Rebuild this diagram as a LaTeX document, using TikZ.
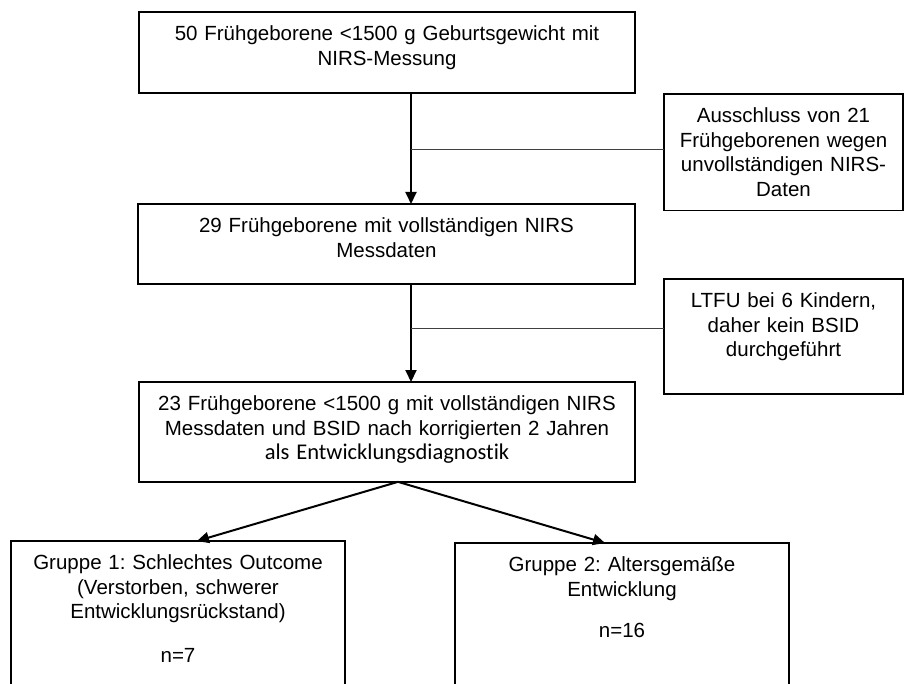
\documentclass[tikz,border=0pt]{standalone}
\usepackage{fontspec}
\setmainfont{Liberation Sans}
\newfontfamily\calibri[Ligatures=NoCommon]{Carlito}
\usetikzlibrary{arrows.meta}
\frenchspacing

\begin{document}
\begin{tikzpicture}[
  x=1pt, y=-1pt,
  box/.style={draw, line width=1.3pt, anchor=north west, outer sep=0pt, align=center,
    inner xsep=4pt, inner ysep=14pt, font=\fontsize{20.5}{24.5}\selectfont},
  flow/.style={-{Triangle[length=12pt,width=11pt]}, line width=2pt},
  side/.style={line width=1pt, black!75}
]
  \clip (0,0) rectangle (904,684);

  % main column
  \node[box, text width=488pt, text depth=38pt] (gesamt) at (139,12)
    {50 Frühgeborene <1500 g Geburtsgewicht mit\\NIRS-Messung};
  \node[box, text width=489pt, text depth=37pt] (vollst) at (138,204)
    {29 Frühgeborene mit vollständigen NIRS\\Messdaten};
  \node[box, text width=488pt, text depth=57pt] (bsid) at (139,382)
    {23 Frühgeborene <1500 g mit vollständigen NIRS\\Messdaten und BSID nach korrigierten 2 Jahren\\{\calibri\fontsize{22.5}{24.5}\selectfont als Entwicklungsdiagnostik}};

  % exclusions
  \node[box, text width=231pt] (aus1) at (664,94)
    {Ausschluss von 21\\Frühgeborenen wegen\\unvollständigen NIRS-\\Daten};
  \node[box, text width=231pt, text depth=72pt] (ltfu) at (664,279)
    {LTFU bei 6 Kindern,\\daher kein BSID\\durchgeführt};

  % groups
  \node[box, text width=326pt, text depth=130pt] (gruppe1) at (11,541)
    {Gruppe 1: Schlechtes Outcome\\(Verstorben, schwerer\\Entwicklungsrückstand)\\[19.5pt]n=7};
  \node[box, text width=326pt, text depth=130pt] (gruppe2) at (455,543)
    {Gruppe 2: Altersgemäße\\Entwicklung\\[17pt]n=16};

  \coordinate (knick1) at ([xshift=24pt]gesamt.south);
  \coordinate (knick2) at ([xshift=24.5pt]vollst.south);

  \draw[flow] (knick1) -- (knick1 |- vollst.north);
  \draw[flow] (knick2) -- (knick2 |- bsid.north);
  \draw[side] ([yshift=2.5pt]aus1.west) -- ([yshift=2.5pt]aus1.west -| knick1);
  \draw[side] ([yshift=8pt]ltfu.west) -- ([yshift=8pt]ltfu.west -| knick2);

  \draw[flow] ([xshift=11pt]bsid.south) -- ([xshift=19pt]gruppe1.north);
  \draw[flow] ([xshift=11pt]bsid.south) -- ([xshift=-17pt]gruppe2.north);
\end{tikzpicture}
\end{document}
